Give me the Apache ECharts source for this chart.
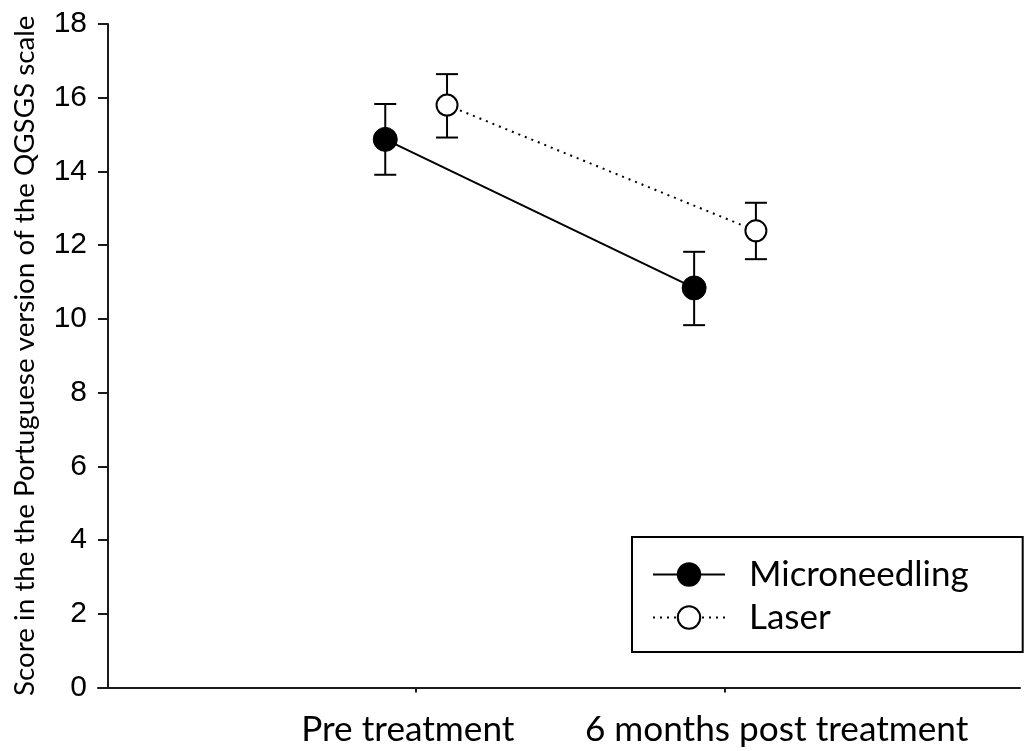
<!DOCTYPE html>
<html>
<head>
<meta charset="utf-8">
<script src="https://cdn.jsdelivr.net/npm/echarts@6/dist/echarts.min.js"></script>
<style>
html,body{margin:0;padding:0;background:#fff;}
#chart{width:1027px;height:751px;}
</style>
</head>
<body>
<div id="chart"></div>
<script>
// ---- data ----
var categories = ['Pre treatment', '6 months post treatment'];
var seriesNames = ['Microneedling', 'Laser'];
var microMean = [14.87, 10.84];
var microLow  = [13.91, 9.83];
var microHigh = [15.83, 11.82];
var laserMean = [15.80, 12.39];
var laserLow  = [14.92, 11.62];
var laserHigh = [16.64, 13.15];
var yTicks = [0, 2, 4, 6, 8, 10, 12, 14, 16, 18];

// category index positions on the numeric x scale (1, 2), with small dodge
var catPos = categories.map(function (c, i) { return i + 1; });
var dodge = 0.1;
var labelShift = [-0.027, 0.167];

function pts(mean, off) {
  return mean.map(function (v, i) { return [catPos[i] + off, v]; });
}
function bars(low, high, off) {
  return low.map(function (v, i) { return [catPos[i] + off, v, high[i]]; });
}

var errRender = function (params, api) {
  var x = api.value(0);
  var lo = api.coord([x, api.value(1)]);
  var hi = api.coord([x, api.value(2)]);
  var w = 11;
  var st = { stroke: '#000', lineWidth: 2 };
  return {
    type: 'group',
    children: [
      { type: 'line', shape: { x1: lo[0], y1: lo[1], x2: hi[0], y2: hi[1] }, style: st },
      { type: 'line', shape: { x1: lo[0] - w, y1: lo[1], x2: lo[0] + w, y2: lo[1] }, style: st },
      { type: 'line', shape: { x1: hi[0] - w, y1: hi[1], x2: hi[0] + w, y2: hi[1] }, style: st }
    ]
  };
};

var chart = echarts.init(document.getElementById('chart'), null, { renderer: 'canvas' });
var axisColor = '#1a1a1a';
chart.setOption({
  backgroundColor: '#fff',
  animation: false,
  grid: { left: 98, right: 7, top: 24, bottom: 63.5, containLabel: false, outerBoundsMode: 'none' },
  xAxis: {
    type: 'value',
    min: -0.03,
    max: 2.955,
    splitLine: { show: false },
    axisLine: { show: true, onZero: false, lineStyle: { color: axisColor, width: 2 } },
    axisTick: { show: true, customValues: catPos, length: 5, lineStyle: { color: axisColor, width: 2 } },
    axisLabel: {
      show: true,
      customValues: catPos.map(function (p, i) { return p + labelShift[i]; }),
      formatter: function (v) {
        var best = 0, d = 1e9;
        catPos.forEach(function (p, i) {
          var dd = Math.abs(p + labelShift[i] - v);
          if (dd < d) { d = dd; best = i; }
        });
        return categories[best];
      },
      fontFamily: 'Lato',
      fontSize: 35.2,
      color: '#000',
      margin: 25
    }
  },
  yAxis: {
    type: 'value',
    min: 0,
    max: 18,
    interval: 2,
    offset: -10,
    name: 'Score in the the Portuguese version of the QGSGS scale',
    nameLocation: 'middle',
    nameGap: 69,
    nameTextStyle: { fontFamily: 'Lato', fontSize: 27.8, color: '#000' },
    splitLine: { show: false },
    axisLine: { show: true, onZero: false, lineStyle: { color: axisColor, width: 2 } },
    axisTick: { show: true, length: 10, lineStyle: { color: axisColor, width: 2 } },
    axisLabel: {
      fontFamily: 'Liberation Sans',
      fontSize: 30,
      color: '#000',
      margin: 21,
      formatter: function (v) { return yTicks.indexOf(v) >= 0 ? String(v) : ''; }
    }
  },
  legend: {
    orient: 'vertical',
    left: 632,
    top: 537,
    data: seriesNames,
    itemWidth: 72,
    itemHeight: 28,
    itemGap: 8,
    padding: [20, 54, 17, 20],
    borderColor: '#000',
    borderWidth: 2,
    borderRadius: 0,
    backgroundColor: '#fff',
    textStyle: { fontFamily: 'Lato', fontSize: 35, color: '#000', padding: [0, 0, 0, 19] }
  },
  series: [
    {
      type: 'custom',
      name: 'microErr',
      renderItem: errRender,
      data: bars(microLow, microHigh, -dodge),
      encode: { x: 0, y: [1, 2] },
      z: 1,
      silent: true
    },
    {
      type: 'custom',
      name: 'laserErr',
      renderItem: errRender,
      data: bars(laserLow, laserHigh, dodge),
      encode: { x: 0, y: [1, 2] },
      z: 1,
      silent: true
    },
    {
      type: 'line',
      name: seriesNames[0],
      data: pts(microMean, -dodge),
      symbol: 'circle',
      symbolSize: 24,
      lineStyle: { color: '#000', width: 2, type: 'solid' },
      itemStyle: { color: '#000', borderColor: '#000', borderWidth: 1 },
      z: 3
    },
    {
      type: 'line',
      name: seriesNames[1],
      data: pts(laserMean, dodge),
      symbol: 'circle',
      symbolSize: 21,
      lineStyle: { color: '#000', width: 2, type: [2, 5] },
      itemStyle: { color: '#fff', borderColor: '#000', borderWidth: 2 },
      z: 3
    }
  ]
});
</script>
</body>
</html>
